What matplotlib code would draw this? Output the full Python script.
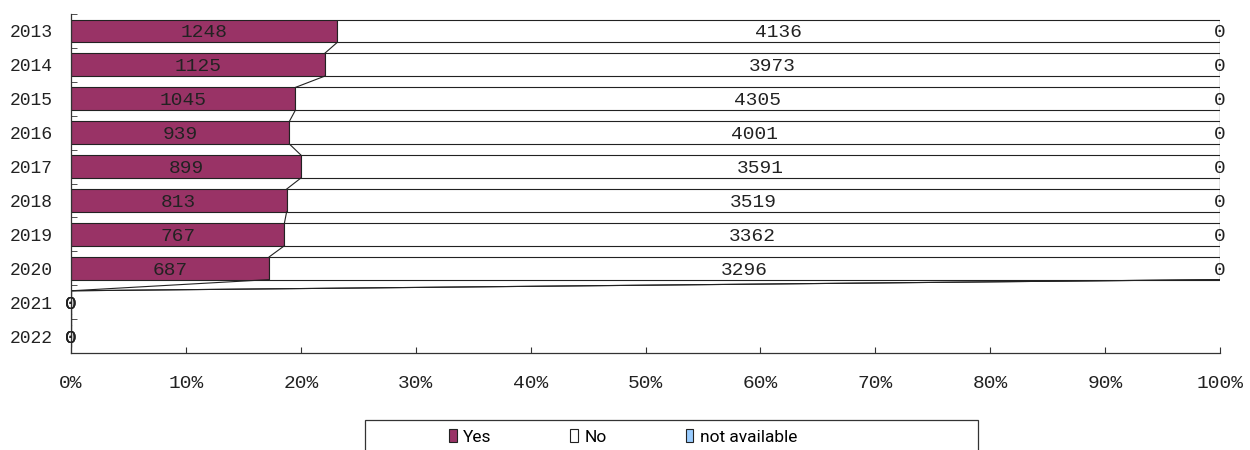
import numpy as np
import matplotlib.pyplot as plt
from matplotlib.patches import Rectangle, Patch

years = ['2013', '2014', '2015', '2016', '2017', '2018', '2019', '2020', '2021', '2022']
yes_vals = [1248, 1125, 1045, 939, 899, 813, 767, 687, 0, 0]
no_vals = [4136, 3973, 4305, 4001, 3591, 3519, 3362, 3296, 0, 0]
na_vals = [0, 0, 0, 0, 0, 0, 0, 0, 0, 0]
series_names = ['Yes', 'No', 'not available']
colors = ['#993366', '#FFFFFF', '#99CCFF']
x_ticks = [0, 10, 20, 30, 40, 50, 60, 70, 80, 90, 100]

mono = ['Liberation Mono', 'DejaVu Sans Mono']
txt_col = '#222222'
edge = '#222222'

vals = np.array([yes_vals, no_vals, na_vals], dtype=float)
tot = vals.sum(axis=0)
pct = np.divide(vals, tot, out=np.zeros_like(vals), where=tot > 0)
cum = np.cumsum(pct, axis=0)
left = cum - pct

fig = plt.figure(figsize=(12.5, 4.5), dpi=100)
ax = fig.add_axes([71 / 1250, 1 - 353 / 450, (1220 - 71) / 1250, (353 - 14) / 450])

y = np.arange(len(years))
h = 0.67
for k in range(3):
    ax.barh(y, pct[k], h, left=left[k], color=colors[k], edgecolor=edge, linewidth=0.8, zorder=2)

# series lines between neighbouring bars
for i in range(len(years) - 1):
    for k in range(3):
        ax.plot([cum[k][i], cum[k][i + 1]], [i + h / 2, i + 1 - h / 2],
                color=edge, lw=0.8, zorder=2)

# data labels
for k, arr in enumerate([yes_vals, no_vals, na_vals]):
    for i, v in enumerate(arr):
        ax.text(left[k][i] + pct[k][i] / 2, i, str(v), ha='center', va='center_baseline',
                fontsize=14, family=mono, color=txt_col, zorder=3)

ax.set_xlim(0, 1)
ax.set_ylim(len(years) - 0.5, -0.5)
for s in ['top', 'right']:
    ax.spines[s].set_visible(False)
for s in ['left', 'bottom']:
    ax.spines[s].set_color('#333333')
    ax.spines[s].set_linewidth(0.9)

ax.set_yticks(y)
ax.set_yticklabels(years, family=mono, fontsize=13, color=txt_col)
ax.set_yticks(np.arange(-0.5, len(years), 1), minor=True)
ax.tick_params(axis='y', which='major', length=0, pad=13)
ax.tick_params(axis='y', which='minor', length=4, direction='in', color='#333333')

ax.set_xticks(np.array(x_ticks) / 100)
ax.set_xticklabels([f'{t}%' for t in x_ticks], family=mono, fontsize=14, color=txt_col)
ax.tick_params(axis='x', length=4, direction='in', pad=16, color='#333333')

# legend with a frame that runs off the bottom edge
fig.patches.append(Rectangle((365 / 1250, -0.05), (978 - 365) / 1250, 1 - 420 / 450 + 0.05,
                             transform=fig.transFigure, facecolor='white',
                             edgecolor='#333333', linewidth=0.9))
handles = [Patch(facecolor=c, edgecolor=edge, linewidth=0.8) for c in colors]
fig.legend(handles, series_names, loc='center', bbox_to_anchor=(623 / 1250, 1 - 437 / 450),
           ncol=3, frameon=False, handlelength=0.45, handleheight=0.75, handletextpad=0.35,
           columnspacing=4.55, borderpad=0,
           prop={'family': ['Roboto', 'DejaVu Sans'], 'size': 12.5})

fig.savefig('out.png', dpi=100)
